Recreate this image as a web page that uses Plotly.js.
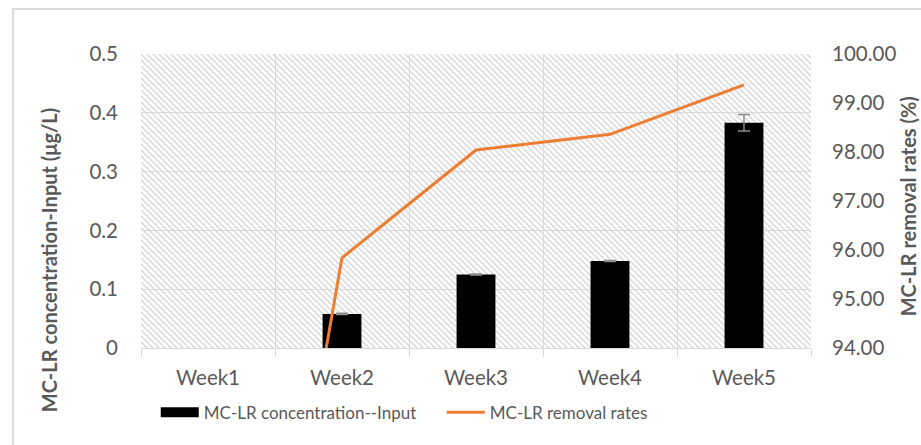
<!DOCTYPE html>
<html><head><meta charset="utf-8">
<script src="https://cdn.plot.ly/plotly-3.0.1.min.js"></script>
<style>html,body{margin:0;padding:0;background:#fff}#chart{width:921px;height:445px}</style>
</head><body><div id="chart"></div>
<script>
const weeks = ['Week1', 'Week2', 'Week3', 'Week4', 'Week5'];
const concentration = [0, 0.058, 0.125, 0.148, 0.383];
const concentrationErr = [NaN, 0.001, 0.001, 0.001, 0.014];
const removalRates = [80.2, 95.84, 98.04, 98.36, 99.37];
const leftTicks = [0, 0.1, 0.2, 0.3, 0.4, 0.5];
const leftTickText = ['0', '0.1', '0.2', '0.3', '0.4', '0.5'];
const rightTicks = [94, 95, 96, 97, 98, 99, 100];
const rightTickText = ['94.00', '95.00', '96.00', '97.00', '98.00', '99.00', '100.00'];
const barName = 'MC-LR concentration--Input';
const lineName = 'MC-LR removal rates';
const leftTitle = 'MC-LR concentration-Input (μg/L)';
const rightTitle = 'MC-LR removal rates (%)';

const FONT = 'Lato, "Open Sans", sans-serif';
const TXT = '#595959';
const GRID = '#d9d9d9';
const TICK = 20.5;

const hatch = '<svg xmlns="http://www.w3.org/2000/svg" width="670" height="294" viewBox="0 0 670 294" preserveAspectRatio="none">' +
  '<defs><pattern id="p" patternUnits="userSpaceOnUse" width="6" height="6">' +
  '<path d="M-1,-1 L7,7 M-1,5 L1,7 M5,-1 L7,1" stroke="#d8d8d8" stroke-width="1.5"/></pattern></defs>' +
  '<rect width="670" height="294" fill="url(#p)"/></svg>';
const hatchURI = 'data:image/svg+xml;charset=utf-8,' + encodeURIComponent(hatch);

const traces = [
  {
    type: 'bar', x: weeks, y: concentration, name: barName, showlegend: false,
    marker: {color: '#000000'}, width: 0.29,
    error_y: {type: 'data', array: concentrationErr, visible: true, color: '#8c8c8c', thickness: 1.5, width: 6}
  },
  {
    type: 'scatter', mode: 'lines', x: [null], y: [null], name: barName,
    line: {color: '#000000', width: 10}, hoverinfo: 'skip'
  },
  {
    type: 'scatter', mode: 'lines', x: weeks, y: removalRates, name: lineName, yaxis: 'y2',
    line: {color: '#ED7D31', width: 3}
  }
];

const layout = {
  width: 921, height: 445,
  margin: {l: 141, r: 110, t: 54, b: 97},
  paper_bgcolor: '#ffffff', plot_bgcolor: 'rgba(0,0,0,0)',
  font: {family: FONT, size: 17, color: TXT},
  showlegend: true,
  legend: {orientation: 'h', x: 0.022, xanchor: 'left', y: -0.22, yanchor: 'middle',
           font: {family: FONT, size: 17, color: TXT}, itemwidth: 38, traceorder: 'normal',
           entrywidth: 233, entrywidthmode: 'pixels'},
  xaxis: {
    type: 'category', range: [-0.5, 4.5], tickson: 'boundaries',
    showgrid: true, gridcolor: GRID, gridwidth: 1,
    ticks: 'outside', ticklen: 8, tickcolor: GRID, tickwidth: 1,
    showline: true, linecolor: GRID, linewidth: 1, zeroline: false,
    tickfont: {family: FONT, size: TICK, color: TXT}, ticklabelstandoff: 11
  },
  yaxis: {
    range: [0, 0.5], tickvals: leftTicks, ticktext: leftTickText,
    showgrid: true, gridcolor: GRID, gridwidth: 1, zeroline: false, showline: false,
    ticks: '', ticklabelstandoff: 22,
    tickfont: {family: FONT, size: TICK, color: TXT}
  },
  yaxis2: {
    overlaying: 'y', side: 'right', range: [94, 100], tickvals: rightTicks, ticktext: rightTickText,
    showgrid: false, zeroline: false, showline: false, ticks: '', ticklabelstandoff: 20,
    tickfont: {family: FONT, size: TICK, color: TXT}
  },
  images: [{
    source: hatchURI, xref: 'paper', yref: 'paper', x: 0, y: 1, sizex: 1, sizey: 1,
    xanchor: 'left', yanchor: 'top', sizing: 'stretch', layer: 'below'
  }],
  shapes: [{
    type: 'rect', xref: 'paper', yref: 'paper',
    x0: -0.191, x1: 1.2, y0: -0.4, y1: 1.153,
    line: {color: GRID, width: 2}, fillcolor: 'rgba(0,0,0,0)', layer: 'below'
  }],
  annotations: [
    {text: '<b>' + leftTitle + '</b>', xref: 'paper', yref: 'paper', x: -0.136, y: 0.298,
     textangle: -90, showarrow: false, font: {family: FONT, size: 20, color: TXT},
     xanchor: 'center', yanchor: 'middle'},
    {text: '<b>' + rightTitle + '</b>', xref: 'paper', yref: 'paper', x: 1.1448, y: 0.482,
     textangle: -90, showarrow: false, font: {family: FONT, size: 20, color: TXT},
     xanchor: 'center', yanchor: 'middle'}
  ]
};

Plotly.newPlot('chart', traces, layout, {displayModeBar: false, staticPlot: true});
</script>
</body></html>
